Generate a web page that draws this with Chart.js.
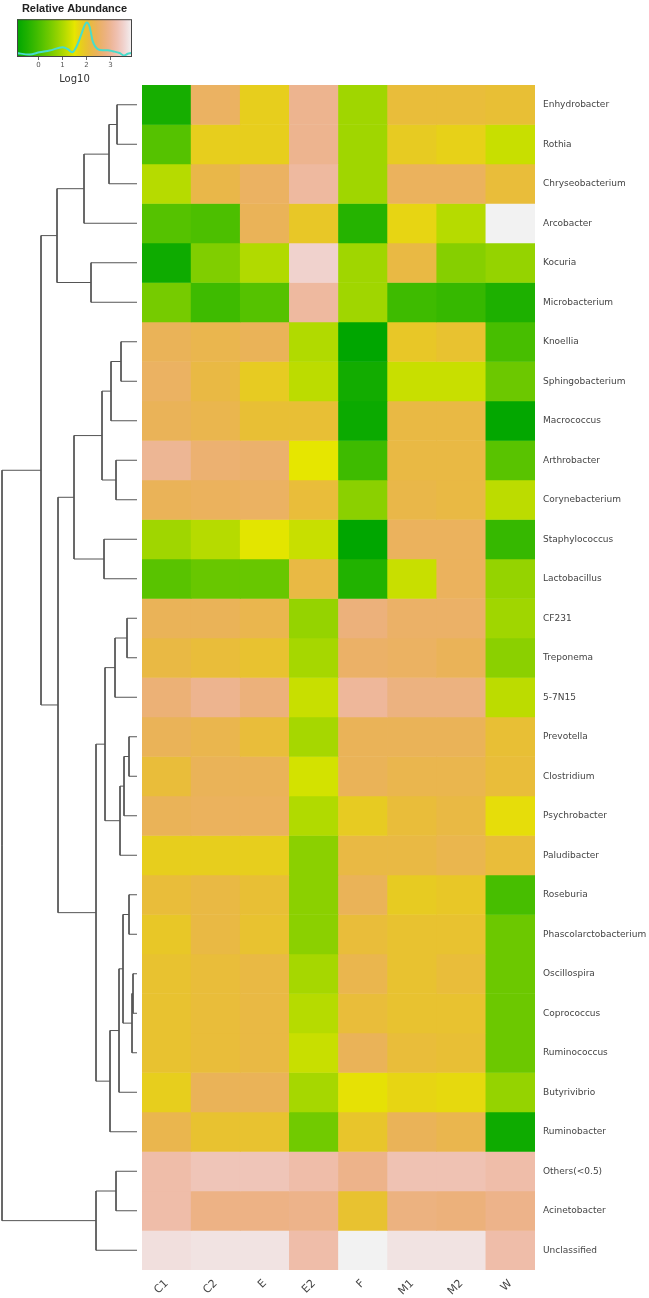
<!DOCTYPE html>
<html>
<head>
<meta charset="utf-8">
<script src="https://cdn.jsdelivr.net/npm/chart.js@4.4.0/dist/chart.umd.min.js"></script>
<style>
body { margin: 0; background: #fff; width: 649px; height: 1298px; position: relative; overflow: hidden; }
canvas { position: absolute; }
</style>
</head>
<body>
<canvas id="key" width="149" height="85" style="left:0;top:0"></canvas>
<canvas id="dendro" width="142" height="1185" style="left:0;top:85px"></canvas>
<canvas id="heat" width="507" height="1213" style="left:142px;top:85px"></canvas>
<script>
// samples (columns) and taxa (rows, top to bottom)
const samples = ['C1', 'C2', 'E', 'E2', 'F', 'M1', 'M2', 'W'];
const taxa = ['Enhydrobacter', 'Rothia', 'Chryseobacterium', 'Arcobacter', 'Kocuria', 'Microbacterium',
  'Knoellia', 'Sphingobacterium', 'Macrococcus', 'Arthrobacter', 'Corynebacterium', 'Staphylococcus',
  'Lactobacillus', 'CF231', 'Treponema', '5-7N15', 'Prevotella', 'Clostridium', 'Psychrobacter',
  'Paludibacter', 'Roseburia', 'Phascolarctobacterium', 'Oscillospira', 'Coprococcus', 'Ruminococcus',
  'Butyrivibrio', 'Ruminobacter', 'Others(<0.5)', 'Acinetobacter', 'Unclassified'];

// log10 relative abundance per sample, same order as taxa
const logC1 = [-0.6, 0.15, 1.1, 0.15, -0.7, 0.5, 2.4, 2.5, 2.4, 3.0, 2.4, 0.9, 0.2, 2.4, 2.2, 2.7, 2.4, 2.1, 2.4, 1.8, 2.1, 1.9, 2.0, 2.0, 2.0, 1.8, 2.3, 3.2, 3.2, 3.7];
const logC2 = [2.5, 1.8, 2.25, 0.05, 0.6, -0.1, 2.3, 2.2, 2.3, 2.65, 2.45, 1.1, 0.35, 2.4, 2.1, 2.95, 2.3, 2.4, 2.45, 1.8, 2.2, 2.2, 2.1, 2.1, 2.1, 2.4, 2.0, 3.35, 2.85, 3.75];
const logE  = [1.8, 1.8, 2.5, 2.4, 1.05, 0.15, 2.4, 1.85, 2.05, 2.6, 2.5, 1.48, 0.35, 2.3, 2.0, 2.75, 2.1, 2.4, 2.45, 1.8, 2.05, 2.0, 2.2, 2.2, 2.2, 2.4, 2.0, 3.35, 2.85, 3.75];
const logE2 = [2.95, 2.95, 3.1, 1.9, 3.55, 3.1, 1.05, 1.15, 2.05, 1.5, 2.1, 1.25, 2.2, 0.8, 0.95, 1.25, 0.95, 1.35, 1.05, 0.7, 0.7, 0.7, 0.95, 1.1, 1.25, 0.95, 0.45, 3.2, 2.9, 3.2];
const logF  = [0.9, 0.9, 0.9, -0.4, 0.9, 0.9, -0.9, -0.65, -0.75, -0.1, 0.7, -0.9, -0.45, 2.75, 2.55, 3.05, 2.4, 2.4, 1.85, 2.2, 2.4, 2.1, 2.3, 2.1, 2.4, 1.55, 1.95, 2.9, 2.0, 3.9];
const logM1 = [2.1, 1.85, 2.45, 1.7, 2.2, -0.1, 1.9, 1.25, 2.2, 2.2, 2.25, 2.45, 1.25, 2.55, 2.5, 2.8, 2.4, 2.3, 2.1, 2.2, 1.85, 2.0, 2.0, 2.0, 2.1, 1.7, 2.4, 3.3, 2.8, 3.75];
const logM2 = [2.1, 1.75, 2.45, 1.1, 0.65, -0.2, 2.0, 1.25, 2.2, 2.2, 2.2, 2.45, 2.45, 2.55, 2.4, 2.8, 2.4, 2.3, 2.2, 2.3, 1.9, 2.0, 2.1, 2.0, 2.05, 1.65, 2.3, 3.3, 2.75, 3.75];
const logW  = [2.05, 1.25, 2.1, 3.9, 0.8, -0.5, 0.0, 0.4, -0.85, 0.2, 1.15, -0.2, 0.8, 0.9, 0.7, 1.15, 2.05, 2.1, 1.6, 2.1, 0.0, 0.4, 0.4, 0.4, 0.4, 0.8, -0.7, 3.2, 2.9, 3.2];
const columns = [logC1, logC2, logE, logE2, logF, logM1, logM2, logW];

// row dendrogram, hclust style: negative = leaf (row number), positive = earlier merge
const mergeA = [-1, 1, 2, -5, 3, -7, 6, -10, 7, -12, 9, -14, 12, -17, 14, 15, 13, -21, -23, 19, 18, 21, 22, 17, 11, 5, -28, 27, 26];
const mergeB = [-2, -3, -4, -6, 4, -8, -9, -11, 8, -13, 10, -15, -16, -18, -19, -20, 16, -22, -24, -25, 20, -26, -27, 23, 24, 25, -29, -30, 28];
const mergeHeight = [20, 28, 53, 46, 80, 16, 26, 21, 35, 33, 63, 10, 22, 8, 13, 17, 32, 8, 4, 5, 14, 18, 27, 41, 79, 96, 21, 41, 135];

// colour key: range and density trace
const keyMin = -0.9, keyMax = 3.9;
const keyTicks = [0, 1, 2, 3];
const densX = [-0.93, -0.38, 0.04, 0.46, 1.01, 1.22, 1.40, 1.57, 1.78, 1.92, 2.01, 2.13, 2.26, 2.47, 2.68, 2.89, 3.10, 3.38, 3.58, 3.72, 3.86];
const densY = [0.11, 0.07, 0.13, 0.18, 0.27, 0.22, 0.13, 0.27, 0.62, 0.88, 0.96, 0.84, 0.44, 0.22, 0.19, 0.19, 0.16, 0.11, 0.04, 0.09, 0.11];

// terrain.colors style palette
function hsv(h, s, v) {
  const c = v * s, hp = h / 60, x = c * (1 - Math.abs(hp % 2 - 1)), m = v - c;
  const rgb = hp <= 1 ? [c, x, 0] : [x, c, 0];
  return 'rgb(' + rgb.map(u => Math.round((u + m) * 255)).join(',') + ')';
}
function terrain(val) {
  let t = (val - keyMin) / (keyMax - keyMin);
  t = Math.min(1, Math.max(0, t));
  if (t < 0.5) {
    const u = t / 0.5;
    return hsv(120 - 60 * u, 1, 0.65 + 0.25 * u);
  }
  const u = (t - 0.5) / 0.5;
  return hsv(60 - 60 * u, 1 - u, 0.9 + 0.05 * u);
}

const labelFont = 'DejaVu Sans';

// --- colour key
const keyBackground = {
  id: 'keyBackground',
  beforeDatasetsDraw(chart) {
    const { ctx, chartArea: a, scales: { x } } = chart;
    const g = ctx.createLinearGradient(a.left, 0, a.right, 0);
    for (let k = 0; k <= 48; k++) {
      g.addColorStop(k / 48, terrain(x.min + (x.max - x.min) * k / 48));
    }
    ctx.save();
    ctx.fillStyle = g;
    ctx.fillRect(a.left, a.top, a.width, a.height);
    ctx.restore();
  },
  afterDatasetsDraw(chart) {
    const { ctx, chartArea: a } = chart;
    ctx.save();
    ctx.strokeStyle = '#444';
    ctx.lineWidth = 1;
    ctx.strokeRect(a.left + 0.5, a.top + 0.5, a.width - 1, a.height - 1);
    ctx.restore();
  }
};

new Chart(document.getElementById('key'), {
  type: 'line',
  data: {
    datasets: [{
      data: densX.map((x, i) => ({ x: x, y: densY[i] })),
      borderColor: '#48dccb',
      borderWidth: 2,
      pointRadius: 0,
      tension: 0.4,
      cubicInterpolationMode: 'monotone'
    }]
  },
  options: {
    responsive: false,
    animation: false,
    layout: { padding: { left: 17, right: 17, top: 0, bottom: 0 } },
    plugins: {
      legend: { display: false },
      tooltip: { enabled: false },
      title: {
        display: true,
        text: 'Relative Abundance',
        color: '#222',
        font: { family: 'Liberation Sans', size: 11, weight: 'bold' },
        padding: { top: 2, bottom: 4 }
      }
    },
    scales: {
      x: {
        type: 'linear',
        min: keyMin,
        max: keyMax,
        afterBuildTicks: s => { s.ticks = keyTicks.map(v => ({ value: v })); },
        ticks: { color: '#555', font: { family: labelFont, size: 7 }, padding: 1 },
        grid: { drawOnChartArea: false, tickLength: 3, color: '#666' },
        border: { display: false },
        title: { display: true, text: 'Log10', color: '#333', font: { family: labelFont, size: 10 }, padding: { top: 1, bottom: 0 } },
        afterFit: s => { s.height = 28; }
      },
      y: { min: 0, max: 1.05, display: false }
    }
  },
  plugins: [keyBackground]
});

// --- dendrogram
const nodePos = [];
const dendroSets = [];
function nodeAt(id) { return id < 0 ? { x: 0, y: -id - 0.5 } : nodePos[id - 1]; }
mergeA.forEach((a, k) => {
  const p = nodeAt(a), q = nodeAt(mergeB[k]), h = mergeHeight[k];
  nodePos.push({ x: h, y: (p.y + q.y) / 2 });
  dendroSets.push({
    data: [{ x: p.x, y: p.y }, { x: h, y: p.y }, { x: h, y: q.y }, { x: q.x, y: q.y }],
    borderColor: '#555',
    borderWidth: 1,
    pointRadius: 0,
    tension: 0,
    clip: false
  });
});

new Chart(document.getElementById('dendro'), {
  type: 'line',
  data: { datasets: dendroSets },
  options: {
    responsive: false,
    animation: false,
    layout: { padding: { left: 2, right: 5, top: 0, bottom: 0 } },
    plugins: { legend: { display: false }, tooltip: { enabled: false } },
    scales: {
      x: { type: 'linear', min: 0, max: 135, reverse: true, display: false },
      y: { type: 'linear', min: 0, max: taxa.length, reverse: true, display: false }
    }
  }
});

// --- heatmap
new Chart(document.getElementById('heat'), {
  type: 'bar',
  data: {
    labels: samples,
    datasets: taxa.map((name, i) => ({
      label: name,
      data: samples.map(() => [i, i + 1]),
      backgroundColor: columns.map(col => terrain(col[i])),
      borderWidth: 0,
      grouped: false,
      barPercentage: 1,
      categoryPercentage: 1,
      yAxisID: 'y'
    }))
  },
  options: {
    responsive: false,
    animation: false,
    layout: { padding: 0 },
    plugins: { legend: { display: false }, tooltip: { enabled: false } },
    scales: {
      x: {
        type: 'category',
        grid: { display: false, drawTicks: false },
        border: { display: false },
        ticks: { minRotation: 45, maxRotation: 45, color: '#444', font: { family: labelFont, size: 11 }, padding: 7 },
        afterFit: s => { s.height = 28; s.paddingLeft = 0; s.paddingRight = 0; }
      },
      y: { type: 'linear', min: 0, max: taxa.length, reverse: true, display: false },
      yl: {
        type: 'category',
        labels: taxa,
        position: 'right',
        offset: true,
        grid: { display: false, drawTicks: false },
        border: { display: false },
        ticks: { autoSkip: false, padding: 8, color: '#444', font: { family: labelFont, size: 9 } },
        afterFit: s => { s.width = 114; s.paddingTop = 0; s.paddingBottom = 0; }
      }
    }
  }
});
</script>
</body>
</html>
